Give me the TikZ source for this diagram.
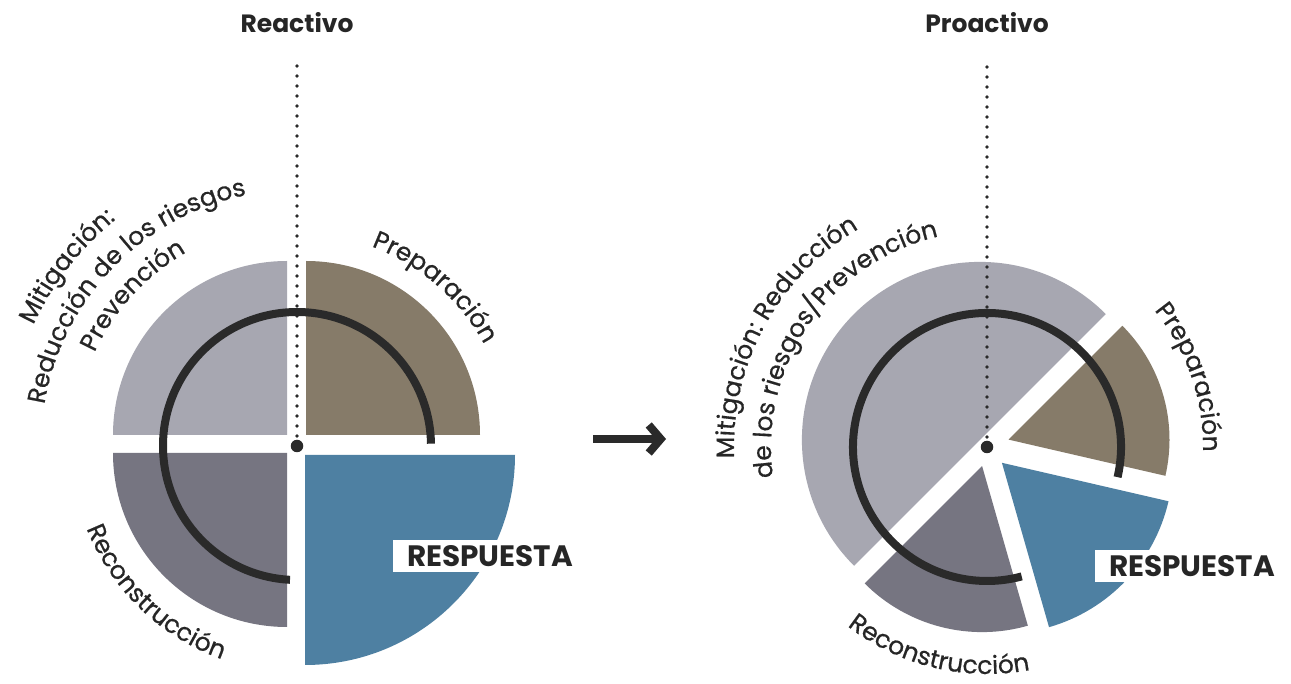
\documentclass[tikz,border=0pt]{standalone}
\usepackage{fontspec}
\setmainfont{Poppins}
\newfontfamily\lblfam{Poppins}[FakeBold=0.6]
\usetikzlibrary{decorations.text,arrows.meta}
\definecolor{cLight}{RGB}{167,167,177}
\definecolor{cBrown}{RGB}{134,123,105}
\definecolor{cDark}{RGB}{118,117,129}
\definecolor{cBlue}{RGB}{78,128,162}
\definecolor{cInk}{RGB}{42,42,42}
\definecolor{cText}{RGB}{38,38,38}
\newcommand\lblfont{\lblfam\fontsize{25}{30}\selectfont\color{cText}}
\begin{document}
\begin{tikzpicture}[x=1pt,y=1pt,
  ringarc/.style={draw=cInk, line width=8pt},
  dotline/.style={draw=cInk, line width=3.8pt, line cap=round, dash pattern=on 0pt off 10pt},
  hubdot/.style={circle, fill=cInk, inner sep=0pt, minimum size=12.5pt},
  titletext/.style={font=\fontsize{25}{30}\selectfont\bfseries, text=cText, anchor=base, inner sep=0pt},
  respbox/.style={fill=white, text=cText, font=\fontsize{29.5}{34}\selectfont\bfseries, minimum width=194pt, minimum height=32pt, inner sep=0pt},
  arclabel/.style={decorate, decoration={text along path, text align=center, text={|\lblfont|#1}}},
  bigarrow/.style={draw=cInk, line width=8pt, -{Straight Barb[length=12pt,width=28pt]}}
]
\useasboundingbox (0,0) rectangle (1291,683);
\fill[white] (0,0) rectangle (1291,683);

% ---------------- Left diagram (Reactivo) ----------------
\begin{scope}[shift={(296.5,238)}]
  \fill[cLight] (-9.5,10) -- ++(180:174) arc[start angle=180,end angle=90,radius=174] -- cycle;
  \fill[cBrown] (9.5,10) -- ++(0:174) arc[start angle=0,end angle=90,radius=174] -- cycle;
  \fill[cDark] (-9.5,-8) -- ++(180:174) arc[start angle=180,end angle=270,radius=174] -- cycle;
  \fill[cBlue] (8.5,-10) -- ++(0:210) arc[start angle=0,end angle=-90,radius=210] -- cycle;
\end{scope}
\node[hubdot] (hubL) at (297,237) {};
\coordinate (topL) at (297,620);
\draw[dotline] (hubL.center) -- (topL);
\draw[ringarc] (hubL.center) ++(1:134) arc[start angle=1,end angle=267,radius=134];
\node[titletext] (titleL) at (297,650) {Reactivo};
\node[respbox] (respL) at (490,126.5) {RESPUESTA};
\path[arclabel={Preparación}] (hubL.center) ++(89:213) arc[start angle=89,end angle=9,radius=213];
\path[arclabel={Reconstrucción}] (hubL.center) ++(186:226) arc[start angle=186,end angle=266,radius=226];
\path[arclabel={Mitigación:}] (hubL.center) ++(182:290) arc[start angle=182,end angle=102,radius=290];
\path[arclabel={Reducción de los riesgos}] (hubL.center) ++(191:256) arc[start angle=191,end angle=81,radius=256];
\path[arclabel={Prevención}] (hubL.center) ++(177.5:223) arc[start angle=177.5,end angle=97.5,radius=223];

% ---------------- Arrow ----------------
\coordinate (arrS) at (593,244);
\coordinate (arrE) at (666,244);
\draw[bigarrow] (arrS) -- (arrE);

% ---------------- Right diagram (Proactivo) ----------------
\fill[cLight] (979.9,243.1) -- ++(45:178) arc[start angle=45,end angle=225,radius=178] -- cycle;
\fill[cBrown] (1008.5,243.4) -- ++(-13:161) arc[start angle=-13,end angle=45,radius=161] -- cycle;
\fill[cBlue] (1001.9,220.2) -- ++(-74:171) arc[start angle=-74,end angle=-13,radius=171] -- cycle;
\fill[cDark] (982.1,216.9) -- ++(225:166) arc[start angle=225,end angle=286,radius=166] -- cycle;
\node[hubdot] (hubR) at (987,236) {};
\coordinate (topR) at (987,620);
\draw[dotline] (hubR.center) -- (topR);
\draw[ringarc] (hubR.center) ++(-13:134) arc[start angle=-13,end angle=285,radius=134];
\node[titletext] (titleR) at (987,650) {Proactivo};
\node[respbox] (respR) at (1192,116.5) {RESPUESTA};
\path[arclabel={Preparación}] (hubR.center) ++(59:216) arc[start angle=59,end angle=-21,radius=216];
\path[arclabel={Reconstrucción}] (hubR.center) ++(216.5:227) arc[start angle=216.5,end angle=296.5,radius=227];
\path[arclabel={Mitigación: Reducción}] (hubR.center) ++(196.5:253) arc[start angle=196.5,end angle=106.5,radius=253];
\path[arclabel={de los riesgos/Prevención}] (hubR.center) ++(205.5:216) arc[start angle=205.5,end angle=85.5,radius=216];
\end{tikzpicture}
\end{document}
